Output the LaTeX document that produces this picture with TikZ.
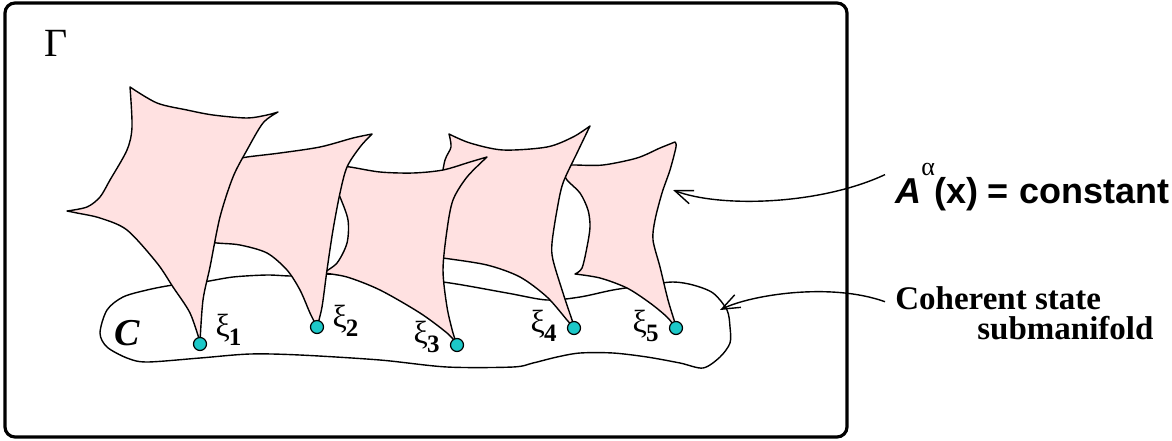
\documentclass[tikz,border=0pt]{standalone}
\usepackage{fontspec}
\setmainfont{Liberation Serif}
\setsansfont{Liberation Sans}
\usepackage{tikz}
\usetikzlibrary{arrows.meta,positioning}
\definecolor{cSheet}{HTML}{FFE1E1}
\definecolor{cDot}{HTML}{1CC8C8}
\tikzset{
  sheet/.style={draw=black, fill=cSheet, line width=0.7pt, line join=round},
  blob/.style={draw=black, fill=white, line width=0.7pt, line join=round},
  frame/.style={draw=black, line width=1.6pt, rounded corners=5pt},
  ptdot/.style={circle, draw=black, fill=cDot, line width=0.6pt, minimum size=6.5pt, inner sep=0pt},
  xilbl/.style={inner sep=0pt, font=\fontsize{16}{16}\selectfont},
  arr/.style={-{Straight Barb[length=9pt, width=7pt]}, line width=0.7pt},
  rlbl/.style={inner sep=0pt, font=\bfseries\fontsize{16.5}{16.5}\selectfont}
}
\newcommand{\xil}[1]{ξ\kern-0.5pt\raisebox{-4.5pt}{\fontsize{12.5}{12.5}\selectfont\bfseries #1}}

\begin{document}
\begin{tikzpicture}[x=0.5pt, y=-0.5pt]
\useasboundingbox (0,0) rectangle (1172,440);
\draw[frame] (5,3) rectangle (847,437);
\node[inner sep=0pt, font=\fontsize{20}{20}\selectfont] (gamma) at (56,43) {Γ};
\draw[blob] plot[smooth cycle, tension=0.5] coordinates {(100,333) (107,310) (123,297) (147,290) (173,285)
  (203,282) (233,277) (267,275) (293,276) (325,274) (380,277) (443,282) (507,293) (547,300) (580,297)
  (613,290) (647,285) (673,282) (693,285) (713,293) (727,310) (730,327) (730,343) (720,357) (703,368)
  (680,363) (647,357) (613,353) (580,353) (557,357) (533,363) (513,367) (447,367) (380,360) (300,355)
  (250,354) (200,358) (147,362) (127,358) (107,347)};
\node[inner sep=0pt, font=\fontsize{19}{19}\selectfont\bfseries\itshape] (cset) at (127,333) {C};
% sheets, back to front
\draw[sheet] plot[smooth] coordinates {(568,165) (575,165) (603,165) (637,158) (660,148) (675,142)}
  -- plot[smooth] coordinates {(675,142) (676,147) (670,170) (662,193) (655,220) (653,240) (660,267) (668,300) (675,323) (676,328)}
  -- plot[smooth] coordinates {(676,328) (667,317) (650,303) (627,288) (600,278) (575,274)}
  -- plot[smooth] coordinates {(575,274) (582,268) (587,247) (590,227) (588,210) (580,193) (567,180) (563,170) (568,165)} -- cycle;
\draw[sheet] plot[smooth] coordinates {(449,134) (470,143) (503,150) (547,147) (573,137) (590,126)}
  -- plot[smooth] coordinates {(590,126) (577,153) (563,183) (557,210) (552,243) (553,260) (563,293) (573,323) (574,328)}
  -- plot[smooth] coordinates {(574,328) (567,320) (547,297) (520,277) (487,265) (443,258) (420,255)}
  -- plot[smooth] coordinates {(420,255) (430,220) (440,185) (445,160) (451,147) (449,134)} -- cycle;
\draw[sheet] plot[smooth] coordinates {(330,165) (350,167) (380,172) (413,173) (443,170) (470,162) (487,157)}
  -- plot[smooth] coordinates {(487,157) (467,177) (453,200) (447,230) (443,270) (447,307) (453,333) (457,344)}
  -- plot[smooth] coordinates {(457,344) (447,333) (420,313) (380,290) (347,277) (323,273)}
  -- plot[smooth] coordinates {(323,273) (337,263) (347,243) (348,220) (340,197) (332,180) (330,165)} -- cycle;
\draw[sheet] plot[smooth] coordinates {(232,160) (247,157) (280,153) (320,147) (353,138) (372,134)}
  -- plot[smooth] coordinates {(372,134) (360,147) (347,167) (340,193) (333,230) (327,270) (322,307) (317,327)}
  -- plot[smooth] coordinates {(317,327) (310,313) (300,290) (287,270) (267,253) (240,245) (217,243) (190,240)}
  -- plot[smooth] coordinates {(190,240) (215,200) (230,170) (232,160)} -- cycle;
\draw[sheet] plot[smooth] coordinates {(130,87) (157,103) (187,110) (213,115) (247,118) (267,115) (278,112)}
  -- plot[smooth] coordinates {(278,112) (263,123) (247,150) (233,177) (220,217) (210,267) (203,300) (200,342)}
  -- plot[smooth] coordinates {(200,342) (190,313) (173,287) (157,263) (127,230) (100,218) (77,213) (67,211)}
  -- plot[smooth] coordinates {(67,211) (87,207) (100,197) (110,180) (127,150) (132,127) (130,87)} -- cycle;
\node[ptdot] (x1) at (200,344) {};
\node[ptdot] (x2) at (317,327) {};
\node[ptdot] (x3) at (457,345) {};
\node[ptdot] (x4) at (574,328) {};
\node[ptdot] (x5) at (676,328) {};
\node[xilbl, right=4pt of x1, yshift=7pt] (l1) {\xil{1}};
\node[xilbl, right=4pt of x2, yshift=3pt] (l2) {\xil{2}};
\node[xilbl, left=5pt of x3, yshift=4pt] (l3) {\xil{3}};
\node[xilbl, left=5pt of x4, yshift=1pt] (l4) {\xil{4}};
\node[xilbl, left=5pt of x5, yshift=1pt] (l5) {\xil{5}};
\node[rlbl, anchor=base west, font=\sffamily\bfseries\fontsize{18}{18}\selectfont] (lblA) at (895,203)
  {\textit{A}\raisebox{14pt}{\rmfamily\mdseries\fontsize{13}{13}\selectfont α}\kern-0.5pt(x) = constant};
\node[rlbl, anchor=base west] (lblC) at (895,309) {Coherent state};
\node[rlbl, anchor=base west] (lblS) at ([shift={(82,30)}]lblC.base west) {submanifold};
\coordinate (tipA) at (673,190);
\coordinate (tipC) at (720,310);
\draw[arr] ([shift={(-10,-12)}]lblA.west) .. controls (820,205) and (720,208) .. (tipA);
\draw[arr] ([shift={(-10,4)}]lblC.west) .. controls (830,282) and (750,295) .. (tipC);
\end{tikzpicture}
\end{document}
